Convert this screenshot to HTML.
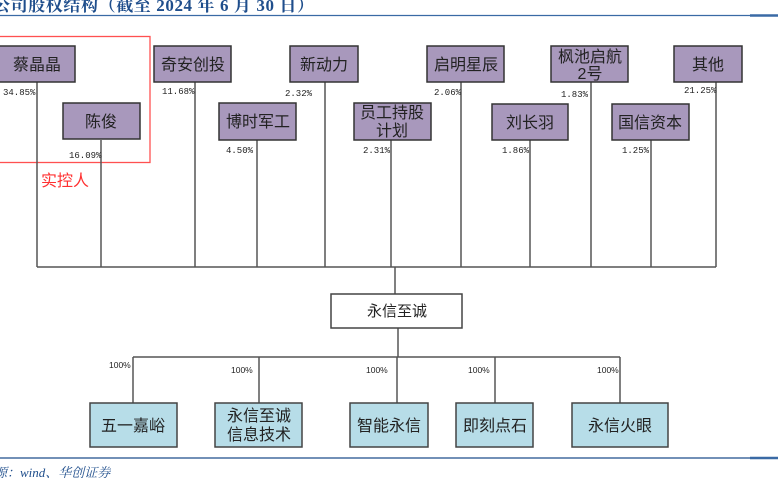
<!DOCTYPE html>
<html><head><meta charset="utf-8"><style>
html,body{margin:0;padding:0;background:#fff;width:778px;height:503px;overflow:hidden}
svg{display:block}
text{font-family:"Liberation Sans","Noto Sans CJK SC",sans-serif}
.b{fill:#a898bc;stroke:#333;stroke-width:1.5}
.c{fill:#b7dde8;stroke:#444;stroke-width:1.5}
.t{font-size:16px;fill:#222;text-anchor:middle}
.p{font-size:9px;fill:#222;font-family:"Liberation Mono","DejaVu Sans Mono",monospace}
.l{stroke:#555;stroke-width:1.5;fill:none}
</style></head><body>
<svg width="778" height="503" viewBox="0 0 778 503">
<text x="-7" y="11" style="font-family:'Liberation Serif','Noto Serif CJK SC',serif;font-weight:bold;font-size:17px;letter-spacing:0.6px;fill:#1f4e8c">公司股权结构（截至 2024 年 6 月 30 日）</text>
<line x1="0" y1="15.5" x2="750" y2="15.5" stroke="#3a6aa5" stroke-width="1.2"/>
<line x1="750" y1="15.5" x2="778" y2="15.5" stroke="#3a6aa5" stroke-width="2.5"/>

<rect x="-5" y="36.5" width="155" height="126" fill="none" stroke="#ff5050" stroke-width="1.3"/>
<text x="41" y="186" style="font-size:16px;fill:#ff3030">实控人</text>

<g class="l">
<line x1="37" y1="82" x2="37" y2="267"/>
<line x1="101" y1="140" x2="101" y2="267"/>
<line x1="195" y1="82" x2="195" y2="267"/>
<line x1="257" y1="140" x2="257" y2="267"/>
<line x1="325" y1="82" x2="325" y2="267"/>
<line x1="391" y1="140" x2="391" y2="267"/>
<line x1="461" y1="82" x2="461" y2="267"/>
<line x1="530" y1="140" x2="530" y2="267"/>
<line x1="591" y1="82" x2="591" y2="267"/>
<line x1="651" y1="140" x2="651" y2="267"/>
<line x1="716" y1="82" x2="716" y2="267"/>
<line x1="37" y1="267" x2="716" y2="267"/>
<line x1="395" y1="267" x2="395" y2="294"/>
<line x1="398" y1="328" x2="398" y2="357"/>
<line x1="133" y1="357" x2="620" y2="357"/>
<line x1="133" y1="357" x2="133" y2="403"/>
<line x1="259" y1="357" x2="259" y2="403"/>
<line x1="397" y1="357" x2="397" y2="403"/>
<line x1="495" y1="357" x2="495" y2="403"/>
<line x1="620" y1="357" x2="620" y2="403"/>
</g>

<rect class="b" x="-5" y="46" width="80" height="36"/><text class="t" x="37" y="70">蔡晶晶</text>
<rect class="b" x="154" y="46" width="77" height="36"/><text class="t" x="193" y="70">奇安创投</text>
<rect class="b" x="290" y="46" width="68" height="36"/><text class="t" x="324" y="70">新动力</text>
<rect class="b" x="427" y="46" width="77" height="36"/><text class="t" x="466" y="70">启明星辰</text>
<rect class="b" x="551" y="46" width="77" height="36"/><text class="t" x="590" y="62">枫池启航</text><text class="t" x="590" y="79">2号</text>
<rect class="b" x="674" y="46" width="68" height="36"/><text class="t" x="708" y="70">其他</text>
<rect class="b" x="63" y="103" width="77" height="36"/><text class="t" x="101" y="127">陈俊</text>
<rect class="b" x="219" y="103" width="77" height="37"/><text class="t" x="258" y="127">博时军工</text>
<rect class="b" x="354" y="103" width="77" height="37"/><text class="t" x="392" y="118">员工持股</text><text class="t" x="392" y="136">计划</text>
<rect class="b" x="492" y="104" width="76" height="36"/><text class="t" x="530" y="128">刘长羽</text>
<rect class="b" x="612" y="104" width="77" height="36"/><text class="t" x="650" y="128">国信资本</text>

<text class="p" x="3" y="95">34.85%</text>
<text class="p" x="69" y="158">16.09%</text>
<text class="p" x="162" y="94">11.68%</text>
<text class="p" x="226" y="153">4.50%</text>
<text class="p" x="285" y="96">2.32%</text>
<text class="p" x="363" y="153">2.31%</text>
<text class="p" x="434" y="95">2.06%</text>
<text class="p" x="502" y="153">1.86%</text>
<text class="p" x="561" y="97">1.83%</text>
<text class="p" x="622" y="153">1.25%</text>
<text class="p" x="684" y="93">21.25%</text>

<rect x="331" y="294" width="131" height="34" fill="#fff" stroke="#444" stroke-width="1.5"/>
<text class="t" x="397" y="316" style="font-size:15px">永信至诚</text>

<g class="p" style="font-size:8.5px;font-family:'Liberation Sans',sans-serif">
<text x="109" y="368">100%</text>
<text x="231" y="373">100%</text>
<text x="366" y="373">100%</text>
<text x="468" y="373">100%</text>
<text x="597" y="373">100%</text>
</g>

<rect class="c" x="90" y="403" width="87" height="44"/><text class="t" x="133" y="431">五一嘉峪</text>
<rect class="c" x="215" y="403" width="87" height="44"/><text class="t" x="259" y="421">永信至诚</text><text class="t" x="259" y="440">信息技术</text>
<rect class="c" x="350" y="403" width="78" height="44"/><text class="t" x="389" y="431">智能永信</text>
<rect class="c" x="456" y="403" width="77" height="44"/><text class="t" x="495" y="431">即刻点石</text>
<rect class="c" x="572" y="403" width="96" height="44"/><text class="t" x="620" y="431">永信火眼</text>

<line x1="0" y1="458" x2="750" y2="458" stroke="#1f4e8c" stroke-width="1.2"/>
<line x1="750" y1="458" x2="778" y2="458" stroke="#3a6aa5" stroke-width="2.5"/>
<text x="-6" y="477" style="font-family:'Liberation Serif','Noto Serif CJK SC',serif;font-style:italic;font-size:13px;fill:#1f4e8c">源：wind、华创证券</text>
</svg>
</body></html>
